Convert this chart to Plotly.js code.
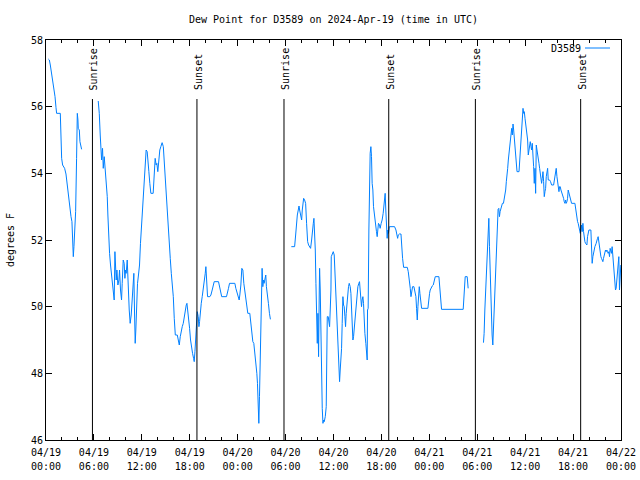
<!DOCTYPE html>
<html>
<head>
<meta charset="utf-8">
<script src="https://cdn.plot.ly/plotly-3.0.1.min.js"></script>
<style>html,body{margin:0;padding:0;background:#fff;}#chart{width:640px;height:480px;}</style>
</head>
<body>
<div id="chart"></div>
<script>
// Hours since 2024-04-19 00:00 UTC and dew point (°F), one pair of arrays per continuous stretch
const seg1Hours = [0.29,0.42,0.54,0.63,0.75,0.88,1.0,1.13,1.25,1.33,1.79,1.83,1.96,2.08,2.33,2.5,2.63,2.75,2.88,3.0,3.13,3.25,3.33,3.42,3.5,3.58,3.71,3.83,3.92,4.0,4.04,4.17,4.25,4.38,4.46];
const seg1Dew   = [57.43,57.4,57.25,57.1,56.9,56.78,56.6,56.3,55.98,55.8,55.8,55.15,54.45,54.25,54.15,53.98,53.7,53.35,53.05,52.8,52.7,52.55,52.0,51.5,51.8,52.3,52.85,54.45,55.8,55.6,55.35,55.3,54.95,54.8,54.72];

const seg2Hours = [6.54,6.67,6.79,6.92,6.96,7.08,7.17,7.29,7.42,7.54,7.67,7.75,7.83,7.96,8.08,8.21,8.33,8.46,8.54,8.63,8.71,8.79,8.88,9.0,9.13,9.21,9.33,9.46,9.54,9.67,9.79,9.88,9.96,10.04,10.17,10.25,10.33,10.42,10.54,10.67,10.79,10.92,11.0,11.08,11.17,11.25,11.33,11.46,11.58,11.71,11.83,11.96,12.08,12.21,12.33,12.46,12.54,12.67,12.75,12.88,13.0,13.13,13.42,13.54,13.67,13.79,13.88,14.0,14.13,14.25,14.38,14.54,14.69,14.81,14.94,15.06,15.19,15.31,15.44,15.56,15.69,15.81,15.94,16.06,16.19,16.44,16.6,16.69,16.81,16.94,17.06,17.19,17.31,17.44,17.56,17.65,17.73,17.85,17.98,18.1,18.23,18.35,18.48,18.56,18.65,18.73,18.81,18.94,19.06,19.15,19.23,19.31,19.44,19.56,19.69,19.81,19.94,20.02,20.1,20.23,20.52,20.65,20.81,20.94,21.06,21.6,21.73,21.85,22.0,22.6,22.73,22.85,22.98,23.65,23.77,23.94,24.06,24.19,24.27,24.4,24.52,24.65,24.77,24.9,25.02,25.15,25.27,25.52,25.65,25.77,25.9,26.02,26.15,26.27,26.4,26.48,26.56,26.65,26.73,26.85,26.98,27.06,27.15,27.23,27.31,27.44,27.52,27.6,27.73,27.85,27.98,28.1];
const seg2Dew   = [56.17,55.8,55.15,54.75,54.4,54.75,54.15,54.5,54.15,53.7,53.3,52.75,52.2,51.6,51.25,51.0,50.7,50.4,50.2,51.65,51.2,50.8,51.1,50.65,50.8,51.1,50.5,50.2,50.7,51.4,51.3,50.85,51.1,51.0,51.4,50.8,50.5,49.9,49.5,49.75,50.2,50.7,51.0,49.9,48.9,49.3,49.95,50.7,50.95,51.25,51.9,52.45,52.9,53.35,53.9,54.4,54.7,54.65,54.3,54.05,53.7,53.4,53.4,53.95,54.45,54.25,54.3,54.05,54.5,54.7,54.8,54.92,54.8,54.3,53.95,53.35,52.8,52.45,52.0,51.45,51.0,50.65,50.3,49.65,49.15,49.15,49.0,48.85,49.1,49.3,49.4,49.5,49.7,49.9,50.05,50.1,49.95,49.6,49.35,49.0,48.7,48.6,48.45,48.35,48.65,49.05,49.35,49.85,49.7,49.4,49.55,49.85,50.1,50.3,50.5,50.8,51.0,51.2,50.7,50.3,50.3,50.35,50.5,50.65,50.75,50.75,50.6,50.45,50.3,50.3,50.4,50.55,50.7,50.7,50.55,50.4,50.25,50.2,50.35,50.65,51.15,51.1,50.7,50.5,50.3,50.0,49.8,49.8,49.5,49.15,48.95,48.9,48.65,48.25,48.0,47.7,47.05,46.5,47.3,48.9,50.4,51.15,50.6,50.8,50.7,50.9,50.95,50.6,50.4,50.1,49.8,49.62];

const seg3Hours = [30.72,31.13,31.26,31.34,31.47,31.59,31.68,31.76,31.88,32.01,32.09,32.18,32.26,32.38,32.51,32.63,32.76,32.88,33.01,33.13,33.26,33.38,33.47,33.55,33.63,33.72,33.8,33.88,33.97,34.05,34.13,34.22,34.26,34.34,34.43,34.51,34.59,34.68,34.76,34.84,34.97,35.09,35.13,35.22,35.34,35.43,35.51,35.59,35.68,35.72,35.84,35.97,36.09,36.22,36.34,36.47,36.59,36.68,36.76,36.84,36.93,37.01,37.09,37.18,37.26,37.34,37.43,37.51,37.59,37.68,37.76,37.88,37.97,38.09,38.18,38.26,38.34,38.43,38.51,38.59,38.68,38.76,38.84,38.97,39.05,39.17,39.26,39.34,39.43,39.51,39.59,39.68,39.76,39.84,39.93,40.05,40.13,40.22,40.26,40.34,40.43,40.51,40.59,40.68,40.76,40.84,40.93,41.01,41.09,41.18,41.3,41.38,41.47,41.55,41.63,41.76,41.84,41.97,42.09,42.22,42.3,42.38,42.47,42.55,42.63,42.72,42.8,42.88,43.0,43.15,43.65,43.82,43.95,44.03,44.11,44.24,44.45,44.53,44.65,44.78,45.24,45.36,45.45,45.53,45.61,45.7,45.78,45.9,46.07,46.2,46.32,46.4,46.49,46.57,46.65,46.74,46.82,46.9,47.03,47.82,47.86,47.95,48.03,48.11,48.24,48.36,48.49,48.61,48.74,49.2,49.28,49.36,49.49,49.53,52.24,52.32,52.4,52.49,52.74,52.82,52.86];
const seg3Dew   = [51.8,51.8,52.15,52.5,52.75,52.9,53.02,52.9,52.75,52.6,52.9,53.1,53.25,53.2,53.1,52.5,51.95,51.85,51.8,51.75,52.0,52.2,52.5,52.65,52.3,51.7,50.7,49.8,48.9,49.8,48.5,50.5,51.15,50.5,49.0,48.0,46.95,46.5,46.6,46.55,46.7,47.0,48.25,49.7,49.7,49.5,49.4,49.9,50.5,51.5,51.6,51.65,51.55,50.8,50.3,49.6,48.9,48.1,47.75,48.1,48.4,48.75,49.5,50.3,50.05,50.0,49.7,49.4,49.8,50.1,50.4,50.6,50.7,50.6,50.4,49.9,49.5,49.0,49.1,49.3,49.6,49.9,50.05,50.3,50.6,50.7,50.75,50.5,50.1,50.0,50.2,50.3,50.1,49.6,49.2,48.9,48.6,48.4,49.9,49.95,52.3,54.4,54.6,54.8,54.5,53.7,53.5,53.0,52.8,52.65,52.4,52.25,52.1,52.35,52.5,52.45,52.35,52.5,52.6,52.8,53.1,53.3,53.4,52.9,52.5,52.05,52.3,52.2,52.4,52.4,52.4,52.3,52.15,52.05,52.15,52.18,52.18,51.8,51.45,51.18,51.18,51.05,50.9,50.7,50.55,50.3,50.45,50.6,50.6,50.45,50.3,49.95,49.6,50.0,50.3,50.6,50.4,50.2,49.95,49.95,50.1,50.25,50.4,50.5,50.6,50.62,50.65,50.8,50.9,50.9,50.7,50.4,50.1,49.92,49.92,50.2,50.6,50.9,50.9,50.7,50.55];

const seg4Hours = [54.78,54.86,54.95,55.03,55.11,55.2,55.28,55.36,55.45,55.53,55.61,55.7,55.78,55.86,55.95,56.03,56.11,56.2,56.28,56.36,56.45,56.53,56.61,56.7,56.78,56.86,56.95,57.03,57.15,57.28,57.4,57.56,57.64,57.73,57.81,57.89,57.98,58.06,58.14,58.23,58.31,58.39,58.48,58.56,58.64,58.73,58.81,58.89,58.98,59.23,59.31,59.39,59.48,59.56,59.64,59.73,59.81,59.89,59.98,60.06,60.14,60.23,60.31,60.39,60.48,60.56,60.64,60.73,60.81,60.89,60.98,61.06,61.14,61.23,61.31,61.39,61.48,61.56,61.64,61.73,61.81,61.89,61.98,62.06,62.14,62.23,62.31,62.39,62.48,62.56,62.64,62.73,62.81,62.89,63.06,63.18,63.31,63.56,63.64,63.73,63.81,63.89,63.98,64.06,64.14,64.23,64.31,64.39,64.48,64.56,64.64,64.73,64.81,64.89,64.98,65.06,65.14,65.23,65.31,65.39,65.48,65.56,65.64,65.73,65.81,66.23,66.31,66.39,66.48,66.56,66.64,66.73,66.81,66.9,66.98,67.06,67.14,67.23,67.31,67.39,67.48,67.56,67.73,67.81,67.89,67.98,68.23,68.31,68.39,68.48,68.56,68.64,68.73,68.89,68.98,69.06,69.14,69.23,69.31,69.39,69.48,69.56,69.64,69.73,69.81,69.89,69.98,70.06,70.14,70.23,70.31,70.39,70.48,70.56,70.64,70.73,70.81,70.89,70.98,71.06,71.14,71.23,71.31,71.39,71.48,71.56,71.64,71.73,71.81,71.89,71.98];
const seg4Dew   = [48.92,49.2,49.9,50.4,50.75,51.4,51.9,52.22,52.65,51.8,50.9,50.1,49.2,49.15,48.85,49.4,50.1,50.7,51.1,51.7,52.3,52.8,52.92,52.95,52.7,52.85,52.92,53.05,53.1,53.1,53.25,53.5,53.75,53.9,54.15,54.4,54.6,54.8,55.05,55.25,55.35,55.15,55.48,55.3,55.1,54.75,54.45,54.25,54.05,54.05,54.4,54.75,55.2,55.45,55.75,55.95,55.8,55.85,55.65,55.5,55.45,55.25,55.0,54.55,54.7,54.85,54.95,54.8,54.7,54.9,54.65,54.2,53.7,54.15,53.4,54.85,54.7,54.5,54.35,54.3,54.15,54.0,53.9,53.7,53.85,54.05,53.75,53.3,53.45,53.55,53.9,54.05,54.15,53.8,53.8,53.75,53.65,53.65,53.75,53.85,54.0,54.15,53.9,53.75,53.6,53.45,53.6,53.6,53.5,53.45,53.4,53.3,53.25,53.15,53.1,53.2,53.1,53.15,53.25,53.5,53.4,53.3,53.25,53.15,53.1,53.1,52.95,52.7,52.65,52.55,52.5,52.4,52.25,52.2,52.3,52.45,52.25,52.5,52.25,52.0,51.95,51.9,51.85,52.1,52.25,52.3,52.3,51.8,51.3,51.5,51.65,51.75,51.8,51.9,51.95,52.05,52.1,51.9,51.75,51.7,51.5,51.45,51.4,51.35,51.45,51.55,51.65,51.7,51.65,51.7,51.65,51.6,51.65,51.5,51.75,51.65,51.6,51.8,51.5,51.25,51.2,50.8,50.5,50.55,50.8,51.1,51.25,51.5,50.5,50.9,51.25];

const sunriseTimes = ['2024-04-19 05:49', '2024-04-20 05:48', '2024-04-21 05:46'];
const sunsetTimes  = ['2024-04-19 18:54', '2024-04-20 18:55', '2024-04-21 18:57'];

const stationName = 'D3589';
const chartTitle = 'Dew Point for D3589 on 2024-Apr-19 (time in UTC)';
const yTitle = 'degrees F';

const START_MS = Date.UTC(2024, 3, 19, 0, 0, 0);
function hourToDate(h) {
  const d = new Date(START_MS + Math.round(h * 3600000));
  return d.toISOString().slice(0, 19).replace('T', ' ');
}

const segments = [[seg1Hours, seg1Dew], [seg2Hours, seg2Dew], [seg3Hours, seg3Dew], [seg4Hours, seg4Dew]];
const xs = [], ys = [];
segments.forEach(([hs, vs], i) => {
  if (i > 0) { xs.push(hourToDate((segments[i-1][0][segments[i-1][0].length-1] + hs[0]) / 2)); ys.push(null); }
  hs.forEach((h, j) => { xs.push(hourToDate(h)); ys.push(vs[j]); });
});

const FONT = 'DejaVu Sans Mono, monospace';
const toPaperY = py => (440 - py) / 400;
const toPaperX = px => (px - 46) / 575;
const X_RANGE = ['2024-04-19 00:00', '2024-04-22 00:00'];

const shapes = [];
const annotations = [];
function addSun(t, label) {
  shapes.push({type: 'line', xref: 'x', yref: 'paper', x0: t, x1: t, y0: 0, y1: toPaperY(99),
               line: {color: '#000', width: 1}});
  annotations.push({xref: 'x', yref: 'paper', x: t, y: toPaperY(92), text: label, textangle: -90,
                    showarrow: false, xanchor: 'center', yanchor: 'bottom', xshift: 1,
                    font: {family: FONT, size: 10, color: '#000'}});
}
sunriseTimes.forEach(t => addSun(t, 'Sunrise'));
sunsetTimes.forEach(t => addSun(t, 'Sunset'));

// legend (gnuplot style: label then sample)
annotations.push({xref: 'paper', yref: 'paper', x: toPaperX(583), y: toPaperY(48), text: stationName,
                  showarrow: false, xanchor: 'right', yanchor: 'middle',
                  font: {family: FONT, size: 10, color: '#000'}});
shapes.push({type: 'line', xref: 'paper', yref: 'paper', x0: toPaperX(585), x1: toPaperX(610),
             y0: toPaperY(48), y1: toPaperY(48), line: {color: '#0080ff', width: 1}});

const trace = {
  type: 'scatter', mode: 'lines', name: stationName,
  x: xs, y: ys, connectgaps: false,
  line: {color: '#0080ff', width: 1}
};
// empty carrier trace so the second (time-of-day label) x axis is drawn
const timeAxisTrace = {
  type: 'scatter', mode: 'lines', x: X_RANGE, y: [null, null], xaxis: 'x2', yaxis: 'y',
  showlegend: false, hoverinfo: 'skip', line: {width: 0}
};

const layout = {
  width: 640, height: 480,
  margin: {l: 46, r: 19, t: 40, b: 40, pad: 0},
  paper_bgcolor: '#fff', plot_bgcolor: '#fff',
  showlegend: false,
  font: {family: FONT, size: 10, color: '#000'},
  title: {text: chartTitle, x: 0.5, xref: 'paper', xanchor: 'center', y: 1 - 19/480, yanchor: 'middle',
          font: {family: FONT, size: 10, color: '#000'}},
  xaxis: {
    type: 'date',
    range: X_RANGE,
    tick0: '2024-04-19 00:00', dtick: 6 * 3600000,
    tickformat: '%m/%d',
    ticks: 'inside', ticklen: 6, tickcolor: '#000', tickwidth: 1,
    ticklabelstandoff: 3,
    minor: {dtick: 2 * 3600000, ticks: 'inside', ticklen: 3, tickcolor: '#000', tickwidth: 1, showgrid: false},
    showline: true, linecolor: '#000', linewidth: 1, mirror: 'ticks',
    showgrid: false, zeroline: false,
    tickfont: {family: FONT, size: 10, color: '#000'}
  },
  xaxis2: {
    type: 'date',
    overlaying: 'x', anchor: 'y', side: 'bottom',
    range: X_RANGE,
    tick0: '2024-04-19 00:00', dtick: 6 * 3600000,
    tickformat: '%H:%M',
    ticks: '', showline: false, showgrid: false, zeroline: false,
    ticklabelstandoff: 19,
    tickfont: {family: FONT, size: 10, color: '#000'}
  },
  yaxis: {
    range: [46, 58], dtick: 2, tick0: 46,
    ticks: 'inside', ticklen: 6, tickcolor: '#000', tickwidth: 1,
    showline: true, linecolor: '#000', linewidth: 1, mirror: 'ticks',
    showgrid: false, zeroline: false,
    tickfont: {family: FONT, size: 10, color: '#000'},
    title: {text: yTitle, standoff: 14, font: {family: FONT, size: 10, color: '#000'}}
  },
  shapes: shapes,
  annotations: annotations
};

Plotly.newPlot('chart', [trace, timeAxisTrace], layout, {staticPlot: true, displayModeBar: false});
</script>
</body>
</html>
